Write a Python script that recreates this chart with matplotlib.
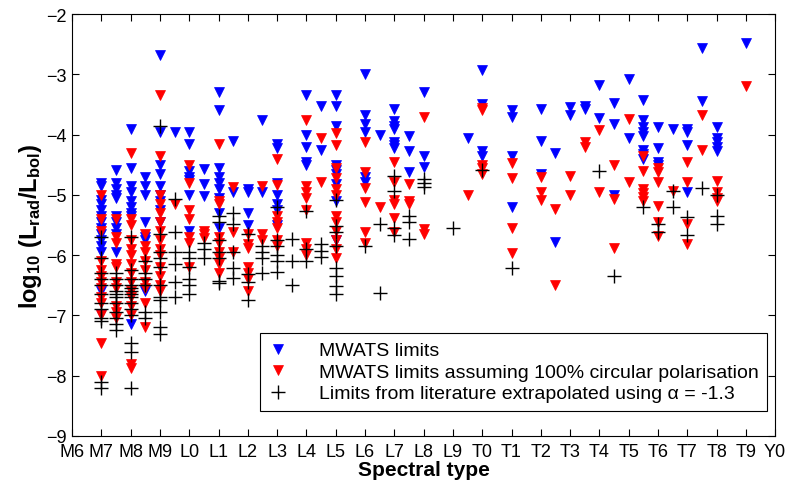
import numpy as np
import matplotlib.pyplot as plt

# spectral types coded as M0 = 0, L0 = 10, T0 = 20, Y0 = 30
tick_types = list(range(6, 31))
tick_names = ['M6', 'M7', 'M8', 'M9'] + ['L%d' % i for i in range(10)] + \
             ['T%d' % i for i in range(10)] + ['Y0']

# MWATS limits (blue)
mwats_types = [7, 7.5, 8, 8.5, 9, 9.5, 10, 10.5, 11, 11.5, 12, 12.5, 13, 14, 14.5,
               15, 16, 16.5, 17, 17.5, 18, 19.5, 20, 21, 22, 22.5, 23, 23.5, 24,
               24.5, 25, 25.5, 26, 26.5, 27, 27.5, 28, 29]
mwats_logl = [
    [-4.8, -4.85, -5.08, -5.15, -5.25, -5.35, -5.45, -5.55, -5.65, -5.75, -5.85, -5.95, -6.6, -6.97],
    [-4.58, -4.8, -4.9, -5.0, -5.05, -5.35, -5.45, -5.55, -5.65, -5.95],
    [-3.9, -4.55, -4.85, -4.95, -5.1, -5.2, -5.3, -5.35, -7.15],
    [-4.7, -4.85, -5.0, -5.45, -5.7, -5.75, -6.6],
    [-2.68, -3.95, -4.5, -4.65, -4.85, -5.0, -5.1, -5.25, -5.45],
    [-3.95],
    [-3.95, -4.15, -4.6, -4.7, -4.75, -5.0, -5.6],
    [-4.57, -4.82, -5.02],
    [-3.3, -3.6, -4.55, -4.7, -4.8, -4.9, -5.05, -5.3, -5.55],
    [-4.1, -4.95],
    [-4.9, -4.95, -5.3, -5.5],
    [-3.75, -4.95],
    [-4.15, -4.22, -4.8, -5.0, -5.15, -5.25, -5.5],
    [-3.35, -4.0, -4.2, -4.45, -4.5],
    [-3.52, -4.25],
    [-3.35, -3.52, -3.85, -4.5, -4.58, -4.65, -4.82, -5.1, -5.75],
    [-3.0, -3.68, -3.82, -3.95, -4.7, -4.78],
    [-4.0],
    [-3.58, -3.78, -3.85, -3.9, -4.12, -4.18, -4.23],
    [-4.03, -4.27, -4.62],
    [-3.3, -4.35, -4.53],
    [-4.05],
    [-2.93, -3.5, -4.28, -4.35],
    [-3.6, -3.7, -4.35, -5.2],
    [-3.58, -4.1, -4.65],
    [-4.3, -5.78],
    [-3.55, -3.68],
    [-3.52, -3.57],
    [-3.17, -3.72],
    [-3.47, -3.83, -5.0],
    [-3.07, -4.05],
    [-3.43, -3.75, -3.88, -3.95, -4.03, -4.25, -4.32, -4.4],
    [-3.87, -4.23, -4.45, -4.5],
    [-3.9],
    [-3.9, -3.95, -4.18, -4.95],
    [-2.57, -3.45],
    [-3.87, -4.05, -4.13, -4.2, -4.27],
    [-2.48],
]

# MWATS limits assuming 100% circular polarisation (red)
circ_types = [7, 7.5, 8, 8.5, 9, 9.5, 10, 10.5, 11, 11.5, 12, 12.5, 13, 14, 14.5,
              15, 16, 16.5, 17, 17.5, 18, 19.5, 20, 21, 22, 22.5, 23, 23.5, 24,
              24.5, 25, 25.5, 26, 26.5, 27, 27.5, 28, 29]
circ_logl = [
    [-5.0, -5.4, -5.6, -6.1, -6.25, -6.35, -6.45, -6.55, -6.7, -6.8, -7.0, -7.45, -8.0],
    [-5.4, -5.7, -5.8, -6.15, -6.2, -6.45, -6.55, -6.85, -6.95, -7.05],
    [-4.3, -5.4, -5.5, -5.75, -5.9, -6.0, -6.15, -6.3, -6.45, -6.6, -6.7, -6.85, -7.0, -7.8, -7.88],
    [-5.65, -5.85, -5.95, -6.1, -6.25, -6.45, -6.55, -6.8, -7.2],
    [-3.35, -4.35, -5.0, -5.15, -5.3, -5.45, -5.6, -5.75, -5.9, -6.0, -6.2, -6.35, -6.5, -6.6],
    [-5.15],
    [-4.5, -4.8, -5.25, -5.4, -5.7, -5.8, -6.2],
    [-5.6, -5.65, -5.72],
    [-4.15, -5.1, -5.15, -5.7, -5.8, -5.95, -6.05, -6.15, -6.3],
    [-4.87, -5.62, -5.95],
    [-5.65, -5.82, -5.88, -6.2, -6.3, -6.4, -6.6],
    [-4.85, -5.65, -5.75],
    [-4.4, -4.83, -5.35, -5.45, -5.55, -5.75, -5.85],
    [-3.75, -4.85, -4.95, -5.05, -5.25, -5.8, -5.9, -6.0],
    [-4.05, -4.78],
    [-3.98, -4.18, -4.55, -4.72, -4.9, -5.0, -5.35, -5.45, -5.6, -5.75, -5.9, -6.05],
    [-4.12, -4.62, -4.88, -5.12, -5.62, -5.8],
    [-5.2],
    [-4.45, -4.78, -5.08, -5.15, -5.38, -5.62],
    [-4.82, -5.1, -5.15],
    [-3.7, -5.57, -5.65],
    [-5.0],
    [-3.56, -3.6, -4.5, -4.55, -4.65],
    [-4.47, -4.72, -5.55, -5.97],
    [-4.7, -4.95, -5.08],
    [-5.23, -6.5],
    [-4.68, -5.0],
    [-4.13, -4.2],
    [-3.92, -4.95],
    [-4.5, -5.07, -5.88],
    [-3.74, -4.78],
    [-4.35, -4.6, -4.9, -4.97, -5.03, -5.1],
    [-4.55, -4.62, -4.78, -5.18, -5.45, -5.68],
    [-4.93],
    [-4.45, -4.78, -5.48, -5.82],
    [-3.68, -4.25],
    [-4.77, -4.95, -5.05, -5.1],
    [-3.2],
]

# limits from literature, extrapolated with alpha = -1.3 (black)
lit_types = [7, 7.5, 8, 8.5, 9, 9.5, 10, 10.5, 11, 11.5, 12, 12.5, 13, 13.5, 14,
             14.5, 15, 16, 16.5, 17, 17.5, 18, 19, 20, 21, 24, 24.5, 25.5, 26,
             26.5, 27, 27.5, 28]
lit_logl = [
    [-5.7, -6.05, -6.3, -6.4, -6.5, -6.65, -6.8, -6.9, -7.05, -7.1, -8.1, -8.2],
    [-6.3, -6.4, -6.5, -6.6, -6.65, -6.7, -6.8, -6.95, -7.05, -7.15, -7.25],
    [-5.7, -6.25, -6.4, -6.5, -6.55, -6.6, -6.65, -6.7, -6.8, -6.9, -7.0, -7.45, -7.6, -8.2],
    [-6.1, -6.3, -6.4, -6.5, -6.95, -7.05],
    [-3.85, -5.65, -5.95, -6.05, -6.2, -6.5, -6.7, -6.75, -6.95, -7.2, -7.3],
    [-5.07, -5.62, -5.95, -6.15, -6.45, -6.7],
    [-5.95, -6.05, -6.2, -6.4, -6.5, -6.65],
    [-5.8, -5.9, -6.05],
    [-5.35, -5.45, -5.75, -5.95, -6.05, -6.43, -6.47],
    [-5.3, -5.48, -5.95, -6.22, -6.38],
    [-5.65, -6.32, -6.45, -6.75],
    [-5.85, -5.95, -6.05, -6.3],
    [-5.2, -5.75, -5.85, -6.0, -6.1, -6.28],
    [-5.73, -6.1, -6.5],
    [-5.27, -5.9, -6.1],
    [-5.82, -5.93, -6.03],
    [-5.08, -5.52, -5.62, -5.85, -6.22, -6.35, -6.52, -6.65],
    [-5.85],
    [-5.48, -6.62],
    [-4.68, -4.93, -5.55, -5.67],
    [-5.35, -5.45, -5.73],
    [-4.73, -4.8, -4.87],
    [-5.55],
    [-4.58],
    [-6.22],
    [-4.6],
    [-6.35],
    [-5.2],
    [-5.48, -5.62],
    [-4.93, -5.2],
    [-5.37, -5.67],
    [-4.88],
    [-5.0, -5.35, -5.48],
]


def flatten(types, logl):
    """ turn column lists into x, y arrays """
    xs, ys = [], []
    for t, vals in zip(types, logl):
        for v in vals:
            xs.append(t)
            ys.append(v)
    return np.array(xs), np.array(ys)


def main():
    plt.rcParams['font.family'] = ['Liberation Sans', 'DejaVu Sans']
    plt.rcParams['mathtext.fontset'] = 'custom'
    plt.rcParams['mathtext.rm'] = 'Liberation Sans'
    plt.rcParams['mathtext.bf'] = 'Liberation Sans:bold'
    plt.rcParams['mathtext.it'] = 'Liberation Sans:italic'

    fig = plt.figure(figsize=(7.87, 4.85), dpi=100)
    ax = fig.add_axes([0.0915, 0.099, 0.8935, 0.870])

    x, y = flatten(mwats_types, mwats_logl)
    ax.plot(x, y, 'v', color='b', ms=6.5, mew=0.5, label='MWATS limits')
    x, y = flatten(circ_types, circ_logl)
    ax.plot(x, y, 'v', color='r', ms=6.5, mew=0.5,
            label='MWATS limits assuming 100% circular polarisation')
    x, y = flatten(lit_types, lit_logl)
    ax.plot(x, y, '+', color='k', ms=10, mew=1.0,
            label='Limits from literature extrapolated using \u03b1 = -1.3')

    ax.set_xlim(6, 30)
    ax.set_ylim(-9, -2)
    ax.set_xticks(tick_types)
    ax.set_xticklabels(tick_names)
    ax.set_yticks(range(-9, -1))
    ax.tick_params(direction='in', top=True, right=True, length=5,
                   labelsize=13, width=0.8)
    ax.tick_params(axis='x', pad=5)
    ax.tick_params(axis='y', pad=4)
    for s in ax.spines.values():
        s.set_linewidth(0.8)

    ax.set_xlabel('Spectral type', fontsize=15, fontweight='bold', labelpad=0)
    ax.set_ylabel(r'$\mathbf{log_{10}\ (L_{rad}/L_{bol})}$', fontsize=17, labelpad=1)

    leg = ax.legend(loc='lower right', bbox_to_anchor=(0.989, 0.059),
                    fontsize=14, fancybox=False, edgecolor='k', framealpha=1,
                    borderaxespad=0, handlelength=1.0, handletextpad=1.6,
                    borderpad=0.45, labelspacing=0.2)
    leg.get_frame().set_linewidth(0.8)

    fig.savefig('out.png', dpi=100)


if __name__ == '__main__':
    main()
